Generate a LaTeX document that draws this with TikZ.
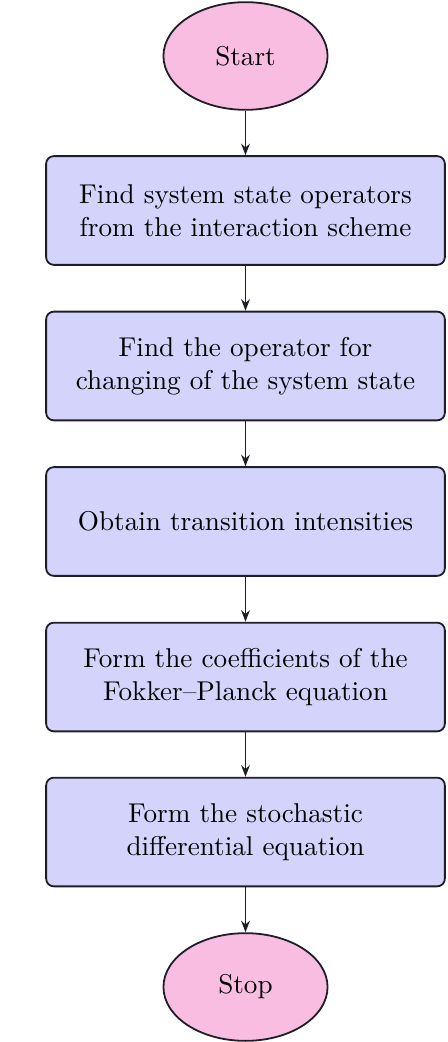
\documentclass[tikz,border=0pt]{standalone}
\usetikzlibrary{shapes.geometric,arrows.meta}
\definecolor{termfill}{RGB}{249,189,226}
\definecolor{procfill}{RGB}{211,211,251}
\definecolor{edge}{RGB}{30,30,40}
\begin{document}
\begin{tikzpicture}[x=0.39pt,y=-0.39pt,
  every node/.style={font=\fontsize{10.6}{12.9}\selectfont},
  term/.style={ellipse,draw=edge,fill=termfill,line width=0.7pt,minimum width=64pt,minimum height=42pt,inner sep=0pt},
  proc/.style={rectangle,rounded corners=3pt,draw=edge,fill=procfill,line width=0.7pt,minimum width=155.5pt,minimum height=42.4pt,align=center,inner sep=0pt},
  flow/.style={-{Stealth[length=4.5pt,width=3.4pt]},line width=0.6pt,draw=edge}]
\useasboundingbox (0,0) rectangle (447,1042);
\node[term] (start) at (245.5,56) {Start};
\node[proc] (p1) at (245.5,210.5) {Find system state operators\\from the interaction scheme};
\node[proc] (p2) at (245.5,366) {Find the operator for\\changing of the system state};
\node[proc] (p3) at (245.5,521.5) {Obtain transition intensities};
\node[proc] (p4) at (245.5,677) {Form the coefficients of the\\Fokker--Planck equation};
\node[proc] (p5) at (245.5,832) {Form the stochastic\\differential equation};
\node[term] (stop) at (245.5,987) {Stop};
\draw[flow] (start) -- (p1);
\draw[flow] (p1) -- (p2);
\draw[flow] (p2) -- (p3);
\draw[flow] (p3) -- (p4);
\draw[flow] (p4) -- (p5);
\draw[flow] (p5) -- (stop);
\end{tikzpicture}
\end{document}
